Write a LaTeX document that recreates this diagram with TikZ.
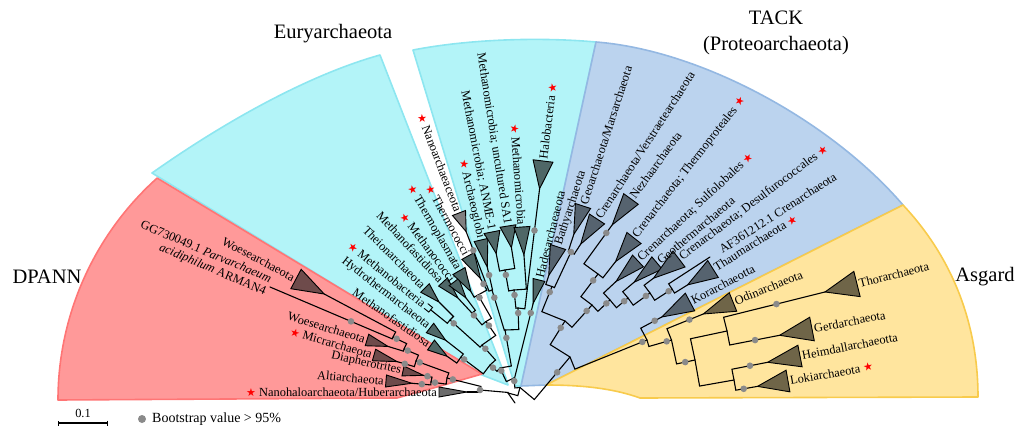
\documentclass[tikz,border=0pt]{standalone}
\usepackage{fontspec}
\setmainfont{Liberation Serif}
\newfontfamily\symfont{DejaVu Sans}
\usetikzlibrary{calc,arrows.meta}

\definecolor{dpfill}{HTML}{FF9999}
\definecolor{dpline}{HTML}{FF7575}
\definecolor{eufill}{HTML}{B3F4F8}
\definecolor{euline}{HTML}{8DE6F0}
\definecolor{tkfill}{HTML}{BBD3EE}
\definecolor{tkline}{HTML}{94B8E2}
\definecolor{asfill}{HTML}{FFE59E}
\definecolor{asline}{HTML}{F8CB4C}
\definecolor{dptri}{HTML}{6E4B4B}
\definecolor{eutri}{HTML}{4F6767}
\definecolor{tktri}{HTML}{56636F}
\definecolor{astri}{HTML}{6F6548}
\definecolor{graytri}{HTML}{6B6B6B}
\definecolor{lgraytri}{HTML}{808080}
\definecolor{bsgray}{HTML}{8A8A8A}

\tikzset{
  wedge/.style={line width=1.6pt, line join=round},
  tri/.style={draw=black, line width=0.9pt},
  branch/.style={draw=black, line width=1.1pt, line cap=round},
  lab/.style={inner sep=0pt, font=\fontsize{12.4}{13.4}\selectfont},
  grp/.style={inner sep=0pt, font=\fontsize{20.5}{26}\selectfont, align=center},
  bs/.style={fill=bsgray},
}

\newcommand{\rst}{\textcolor{red}{\symfont\fontsize{11}{11}\selectfont ★}}
% collapsed clade: name, base centre, angle, length, half width, colour
\newcommand{\clade}[6]{%
  \coordinate (#1-d) at (#2);
  \coordinate (#1) at ($(#1-d)+({180-(#3)}:#4)$);
  \filldraw[tri, fill=#6] (#1) -- ($(#1-d)+({90-(#3)}:#5)$) -- ($(#1-d)+({-90-(#3)}:#5)$) -- cycle;}
\newcommand{\tnode}[3]{%
  \coordinate (#1) at (#2);
  \coordinate (#1-d) at ($(#1)+({-(#3)}:10)$);}
\newcommand{\twig}[2]{\draw[branch] (#1) -- ($(#2)!(#1)!(#2-d)$) -- (#2);}
\newcommand{\bsdot}[2]{\fill[bs] ($(#1)!-#2!(#1-d)$) circle[radius=3.3pt];}
\newcommand{\labL}[3]{\node[lab, anchor=east, rotate=#2-180] (#1-t) at ($(#1-d)+({-(#2)}:2)$) {#3};}
\newcommand{\labR}[3]{\node[lab, anchor=west, rotate=#2] (#1-t) at ($(#1-d)+({-(#2)}:2)$) {#3};}

\begin{document}
\begin{tikzpicture}[x=1pt,y=-1pt]
\useasboundingbox (0,0) rectangle (1029,447);

% coloured sectors
\path[wedge, fill=eufill, draw=euline] (152,173) .. controls (220,125) and (305,76) .. (380,55) -- (506,378) -- (508,385) -- (482,375) -- cycle;
\path[wedge, fill=eufill, draw=euline] (413,50) .. controls (470,39) and (540,37) .. (596,42) -- (521,386) -- (515,386) -- cycle;
\path[wedge, fill=tkfill, draw=tkline] (596,42) .. controls (700,50) and (830,120) .. (903,205) -- (546,385) -- (521,386) -- cycle;
\path[wedge, fill=asfill, draw=asline] (903,205) .. controls (950,255) and (978,320) .. (978,397) -- (640,398) .. controls (615,389) and (585,385) .. (546,385) -- cycle;
\path[wedge, fill=dpfill, draw=dpline] (157,178) -- (482,374) -- (437,387) -- (397,398) -- (58,400) arc[start angle=180, end angle=228.1, radius=298] -- cycle;

% group names
\node[grp] (dpann) at (47,277) {DPANN};
\node[grp] (eury) at (333,34) {Euryarchaeota};
\node[grp] (tack) at (776,33) {TACK\\(Proteoarchaeota)};
\node[grp] (asgard) at (985,277) {Asgard};

% DPANN
\clade{nano}{439,392}{180}{28}{5}{graytri}
\clade{alti}{386,381}{175}{26}{6}{dptri}
\clade{diaph}{403,371}{168}{21}{5}{dptri}
\clade{micr}{374,355}{164}{24}{6}{dptri}
\clade{woeseB}{367,340}{163}{22}{6}{dptri}
\tnode{parv}{270,287}{157}
\clade{woeseA}{296,279}{152}{32}{11}{dptri}
\labL{nano}{180}{\rst\ Nanohaloarchaeota/Huberarchaeota}
\labL{alti}{175}{Altiarchaeota}
\labL{diaph}{168}{Diapherotrites}
\labL{micr}{164}{\rst\ Micrarchaeota}
\labL{woeseB}{163}{Woesearchaeota}
\node[lab, anchor=east, rotate=-23, align=right] (parv-t) at ($(parv)+(-157:2)$) {GG730049.1 \textit{Parvarchaeum}\\\textit{acidiphilum} ARMAN4};
\labL{woeseA}{152}{Woesearchaeota}

% Euryarchaeota
\clade{mfastB}{431,345}{145}{20}{6}{eutri}
\clade{hydro}{430,328}{142}{20}{6}{eutri}
\coordinate (mbact-d) at (426,306);
\coordinate (mbact) at ($(mbact-d)+({180-141}:6)$);
\draw[branch, line width=0.9pt] ($(mbact-d)+({90-141}:3)$) -- ($(mbact)+({90-141}:3)$) -- ($(mbact)+({-90-141}:3)$) -- ($(mbact-d)+({-90-141}:3)$);
\clade{theion}{425,288}{135}{20}{6}{eutri}
\clade{mfastA}{443,282}{133}{22}{6}{eutri}
\clade{mcocc}{454,282}{127}{20}{6}{eutri}
\clade{tplasm}{459,271}{120}{24}{7}{eutri}
\clade{tcocc}{468,256}{119}{26}{7}{eutri}
\clade{nanoarch}{459,213}{111}{20}{7}{lgraytri}
\clade{archaeo}{481,240}{103}{28}{7}{eutri}
\clade{anme}{492,232}{101}{22}{8}{eutri}
\clade{saone}{508,226}{99}{22}{8}{eutri}
\clade{mmicro}{522,227}{94}{28}{8}{eutri}
\clade{halo}{543,161}{83}{28}{10}{eutri}
\clade{hades}{539,280}{76}{24}{6}{eutri}
\labL{mfastB}{145}{Methanofastidiosa}
\labL{hydro}{142}{Hydrothermarchaeota}
\labL{mbact}{141}{\rst\ Methanobacteria}
\labL{theion}{135}{Theionarchaeota}
\labL{mfastA}{133}{Methanofastidiosa}
\labL{mcocc}{127}{\rst\ Methanococci}
\labL{tplasm}{120}{\rst\ Thermoplasmata}
\labL{tcocc}{119}{\rst\ Thermococci}
\labL{nanoarch}{111}{\rst\ Nanoarchaeaceota}
\labL{archaeo}{103}{\rst\ Archaeoglobi}
\labL{anme}{101}{Methanomicrobia; ANME-1}
\labL{saone}{99}{Methanomicrobia; uncultured SA1}
\labL{mmicro}{94}{\rst\ Methanomicrobia}
\labR{halo}{83}{Halobacteria\ \rst}
\labR{hades}{76}{Hadesarchaeaeota}

% TACK
\clade{bathy}{558,247}{72}{30}{8}{tktri}
\clade{geo}{583,206}{72}{30}{8}{tktri}
\clade{crv}{597,219}{57}{30}{9}{tktri}
\clade{nezha}{631,199}{54}{32}{9}{tktri}
\clade{tprot}{634,238}{52}{30}{9}{tktri}
\clade{sulfo}{638,261}{43}{30}{8}{tktri}
\clade{geoth}{657,263}{40}{30}{8}{tktri}
\clade{desulf}{679,259}{37}{32}{10}{tktri}
\tnode{af}{710,257}{33}
\clade{thaum}{713,269}{32}{30}{10}{tktri}
\clade{kor}{690,302}{28}{32}{10}{tktri}
\labR{bathy}{72}{Bathyarchaeota}
\labR{geo}{72}{Geoarchaeota/Marsarchaeota}
\labR{crv}{57}{Crenarchaeota/Verstraetearchaeota}
\labR{nezha}{54}{Nezhaarchaeota}
\labR{tprot}{52}{Crenarchaeota; Thermoproteales\ \rst}
\labR{sulfo}{43}{Crenarchaeota; Sulfolobales\ \rst}
\labR{geoth}{40}{Geothermarchaeota}
\labR{desulf}{37}{Crenarchaeota; Desulfurococcales\ \rst}
\labR{af}{33}{AF361212.1 Crenarchaeota}
\labR{thaum}{32}{Thaumarchaeota\ \rst}
\labR{kor}{28}{Korarchaeotta}

% Asgard
\clade{odin}{733,302}{22}{32}{10}{astri}
\clade{thor}{857,284}{14}{33}{13}{astri}
\clade{gerd}{812,329}{11}{33}{12}{astri}
\clade{heim}{800,356}{11}{33}{11}{astri}
\clade{loki}{788,381}{10}{31}{11}{astri}
\labR{odin}{22}{Odinarchaeota}
\labR{thor}{14}{Thorarchaeota}
\labR{gerd}{11}{Gerdarchaeota}
\labR{heim}{11}{Heimdallarchaeotta}
\labR{loki}{10}{Lokiarchaeota\ \rst}

% inner nodes
\tnode{dA}{393,337}{154}
\tnode{dB}{404,349}{157}
\tnode{dC}{416,361}{160}
\tnode{dD}{431,382}{172}
\tnode{dE}{447,378}{166}
\tnode{dF}{480,390}{175}
\tnode{eA}{461,357}{143}
\tnode{eB}{450,320}{138}
\tnode{eC}{472,313}{130}
\tnode{eD}{478,295}{120}
\tnode{eE}{486,321.5}{125}
\tnode{eF}{482,345}{132}
\tnode{eG}{490,365}{138}
\tnode{eH}{505,270}{100}
\tnode{eI}{514,290}{96}
\tnode{eJ}{518,308}{92}
\tnode{eK}{492,290}{107}
\tnode{eL}{505,330}{100}
\tnode{eM}{500,368}{115}
\tnode{eN}{514,378}{95}
\tnode{tA}{571,252}{65}
\tnode{tB}{552,286.5}{68}
\tnode{tC}{598,274}{53}
\tnode{tD}{672,289}{33}
\tnode{tE}{650,293}{36}
\tnode{tF}{628,298}{40}
\tnode{tG}{610,300}{43}
\tnode{tH}{592,305}{48}
\tnode{tI}{565,321}{58}
\tnode{tJ}{570,357}{50}
\tnode{aA}{727,331}{12}
\tnode{aB}{734,380}{10}
\tnode{aC}{695,360}{12}
\tnode{aD}{671.5,340}{16}
\tnode{aE}{647,340}{22}
\tnode{X}{520,387.5}{75}
\tnode{R}{508,393}{120}
\coordinate (rt) at (515,403);

% branches
\twig{dA}{parv} \twig{dA}{woeseA}
\twig{dB}{dA} \twig{dB}{woeseB}
\twig{dC}{dB} \twig{dC}{micr}
\twig{dD}{alti} \twig{dD}{diaph}
\twig{dE}{dC} \twig{dE}{dD}
\twig{dF}{dE} \twig{dF}{nano}
\twig{eA}{mfastB} \twig{eA}{hydro}
\twig{eB}{theion} \twig{eB}{mbact}
\twig{eC}{mfastA} \twig{eC}{mcocc}
\twig{eD}{tplasm} \twig{eD}{tcocc}
\twig{eE}{eC} \twig{eE}{eD}
\twig{eF}{eB} \twig{eF}{eE}
\twig{eG}{eA} \twig{eG}{eF}
\twig{eH}{anme} \twig{eH}{saone}
\twig{eI}{eH} \twig{eI}{mmicro}
\twig{eJ}{eI} \twig{eJ}{halo}
\twig{eK}{nanoarch} \twig{eK}{archaeo}
\twig{eL}{eK} \twig{eL}{eJ}
\twig{eM}{eG} \twig{eM}{eL}
\twig{eN}{eM} \twig{eN}{hades}
\twig{tA}{geo} \twig{tA}{crv}
\twig{tB}{bathy} \twig{tB}{tA}
\twig{tC}{nezha} \twig{tC}{tprot}
\twig{tD}{af} \twig{tD}{thaum}
\twig{tE}{desulf} \twig{tE}{tD}
\twig{tF}{geoth} \twig{tF}{tE}
\twig{tG}{sulfo} \twig{tG}{tF}
\twig{tH}{tC} \twig{tH}{tG}
\twig{tI}{tB} \twig{tI}{tH}
\twig{aA}{thor} \twig{aA}{gerd}
\twig{aB}{heim} \twig{aB}{loki}
\twig{aC}{aA} \twig{aC}{aB}
\twig{aD}{odin} \twig{aD}{aC}
\twig{aE}{kor} \twig{aE}{aD}
\twig{tJ}{tI} \twig{tJ}{aE}
\twig{X}{eN} \twig{X}{tJ}
\twig{R}{dF} \twig{R}{X}
\draw[branch] (R) -- (rt);

% bootstrap dots
\bsdot{parv}{88pt} \bsdot{dA}{4pt} \bsdot{dB}{4pt} \bsdot{dC}{4pt} \bsdot{dD}{4pt}
\bsdot{dE}{6pt} \bsdot{dF}{0pt} \bsdot{micr}{8pt} \bsdot{alti}{10pt} \bsdot{diaph}{4pt}
\bsdot{eA}{4pt} \bsdot{eB}{5pt} \bsdot{eC}{3pt} \bsdot{eD}{3pt} \bsdot{eE}{5pt}
\bsdot{eF}{5pt} \bsdot{eG}{4pt} \bsdot{eH}{5pt} \bsdot{eI}{5pt} \bsdot{eJ}{5pt}
\bsdot{eK}{8pt} \bsdot{eL}{8pt} \bsdot{eM}{3pt} \bsdot{eN}{3pt}
\bsdot{halo}{42pt} \bsdot{hades}{10pt} \bsdot{tcocc}{6pt} \bsdot{archaeo}{8pt} \bsdot{nanoarch}{20pt}
\bsdot{tA}{0pt} \bsdot{tB}{6pt} \bsdot{tC}{8pt} \bsdot{tD}{4pt} \bsdot{tE}{5pt}
\bsdot{tF}{5pt} \bsdot{tG}{5pt} \bsdot{tH}{8pt} \bsdot{tI}{8pt} \bsdot{tJ}{20pt}
\bsdot{nezha}{10pt} \bsdot{kor}{8pt}
\bsdot{aC}{10pt} \bsdot{aD}{5pt} \bsdot{aE}{5pt}
\bsdot{thor}{50pt} \bsdot{gerd}{25pt} \bsdot{heim}{18pt} \bsdot{loki}{14pt} \bsdot{odin}{15pt}

% scale bar and legend
\draw[line width=1.2pt, {Bar[width=5pt]}-{Bar[width=5pt]}] (58,423) -- (108,423);
\node[lab, anchor=south] (scale) at (83,418) {0.1};
\fill[bs] (142,419) circle[radius=4pt];
\node[inner sep=0pt, anchor=west, font=\fontsize{14}{14}\selectfont] (legend) at (152,419) {Bootstrap value > 95\%};
\end{tikzpicture}
\end{document}
